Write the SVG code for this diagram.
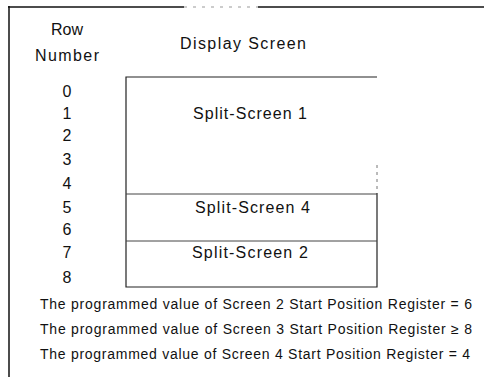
<svg xmlns="http://www.w3.org/2000/svg" width="484" height="377" viewBox="0 0 484 377">
<style>
text{font-family:"Liberation Sans",Arial,sans-serif;fill:#111;}
.lbl{font-size:16px;}
.num{font-size:16px;text-anchor:middle;}
.note{font-size:14px;}
.frame{stroke:#111;stroke-width:1.5;fill:none;}
.box{stroke:#222;stroke-width:1.2;fill:none;}
.div{stroke:#444;stroke-width:1;fill:none;}
</style>
<rect width="484" height="377" fill="#fff"/>
<g id="frame">
<line class="frame" x1="8" y1="7" x2="184" y2="7"/>
<line x1="184" y1="7" x2="258" y2="7" stroke="#999" stroke-dasharray="3,6" stroke-width="1"/>
<line class="frame" x1="258" y1="7" x2="484" y2="7"/>
<line class="frame" x1="9" y1="6" x2="9" y2="377"/>
</g>
<g id="headers">
<text class="num" x="67" y="35">Row</text>
<text class="num" x="67" y="61" textLength="64" lengthAdjust="spacing">Number</text>
<text class="lbl" x="180" y="49" textLength="126" lengthAdjust="spacing">Display Screen</text>
</g>
<g id="rows">
<text class="num" x="67" y="97">0</text>
<text class="num" x="67" y="119">1</text>
<text class="num" x="67" y="141">2</text>
<text class="num" x="67" y="165">3</text>
<text class="num" x="67" y="189">4</text>
<text class="num" x="67" y="213">5</text>
<text class="num" x="67" y="235">6</text>
<text class="num" x="67" y="258">7</text>
<text class="num" x="67" y="283">8</text>
</g>
<g id="screen">
<polyline class="box" points="377,77 126,77 126,287 377,287 377,193"/>
<line x1="377" y1="165" x2="377" y2="193" stroke="#777" stroke-dasharray="3,4" stroke-width="1"/>
</g>
<g id="split1">
<text class="lbl" x="193" y="119" textLength="114" lengthAdjust="spacing">Split-Screen 1</text>
</g>
<g id="split4">
<line class="div" x1="126" y1="194" x2="377" y2="194"/>
<text class="lbl" x="195" y="213" textLength="115" lengthAdjust="spacing">Split-Screen 4</text>
</g>
<g id="split2">
<line class="div" x1="126" y1="241" x2="377" y2="241"/>
<text class="lbl" x="192" y="258" textLength="116" lengthAdjust="spacing">Split-Screen 2</text>
</g>
<g id="notes">
<text class="note" x="40" y="309" textLength="432" lengthAdjust="spacing">The programmed value of Screen 2 Start Position Register = 6</text>
<text class="note" x="40" y="334" textLength="432" lengthAdjust="spacing">The programmed value of Screen 3 Start Position Register ≥ 8</text>
<text class="note" x="40" y="359" textLength="430" lengthAdjust="spacing">The programmed value of Screen 4 Start Position Register = 4</text>
</g>
</svg>
